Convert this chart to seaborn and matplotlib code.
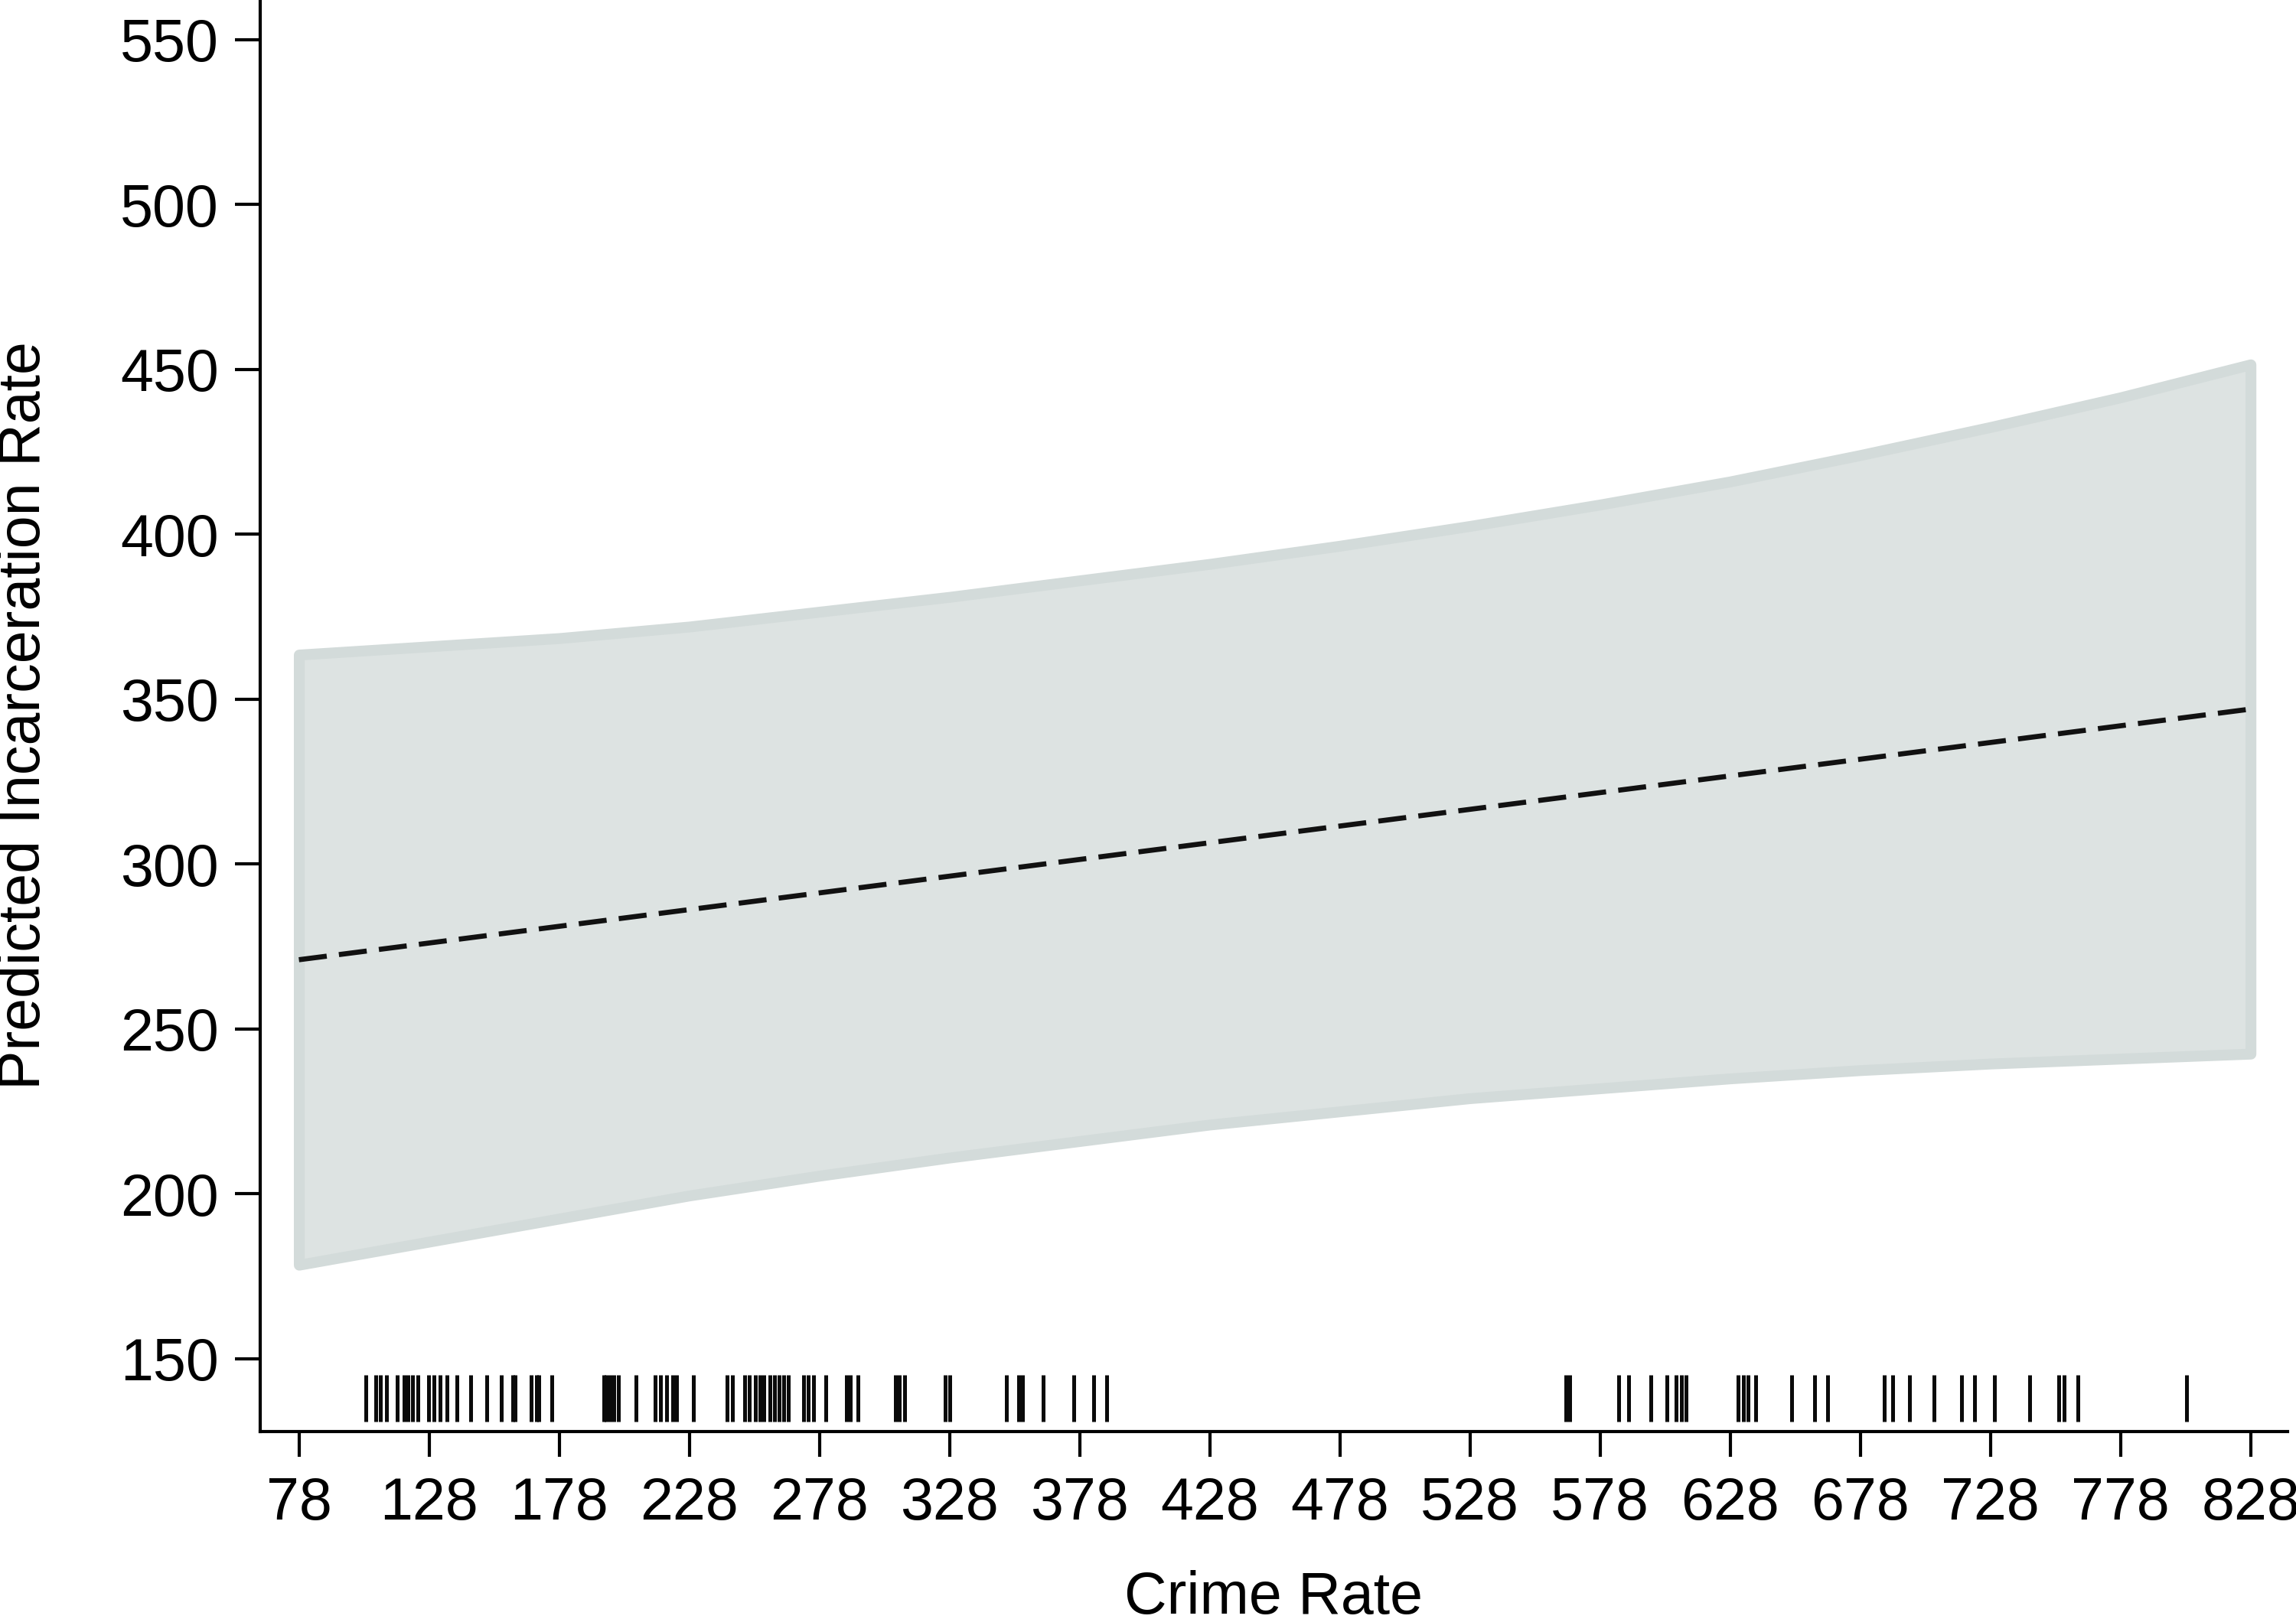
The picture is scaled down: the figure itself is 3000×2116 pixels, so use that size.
'''
predicted incarceration rate by crime rate, with confidence band and rug
'''

import matplotlib
matplotlib.use("Agg")
import matplotlib.pyplot as plt
import pandas as pd
import seaborn as sns

# band at each x tick
crime_grid = [78, 128, 178, 228, 278, 328, 378, 428, 478, 528, 578, 628, 678, 728, 778, 828]
upper_ci = [363.5, 366, 368.5, 372, 376.5, 381, 386, 391, 396.5, 402.5, 409, 416, 424, 432.5, 441.5, 451.5]
lower_ci = [178.5, 185.5, 192.5, 199.5, 205.5, 211, 216, 221, 225, 229, 232, 235, 237.5, 239.5, 241, 242.5]

# predicted line (straight, endpoints)
line_x = [78, 828]
line_y = [271, 347]

# observed crime rates (rug)
rug_values = [
    103.6, 107.5, 109.4, 111.7, 115.8, 118.5, 119.9, 121.7, 123.7, 127.7, 129.9, 132.3,
    134.9, 138.6, 143.9, 150.1, 155.9, 160.1, 161.1, 167.2, 169.2, 170.2, 175.1, 195.1,
    196.2, 197.4, 198.9, 200.9, 207.5, 214.8, 217.0, 219.2, 221.7, 223.1, 229.6, 242.5,
    244.7, 249.4, 251.1, 253.4, 255.1, 256.8, 258.9, 260.8, 262.6, 264.2, 266.0, 272.0,
    273.8, 275.7, 280.4, 288.5, 289.9, 292.9, 307.2, 308.7, 310.9, 326.3, 328.2, 349.9,
    354.5, 356.0, 363.9, 375.8, 383.5, 388.4, 564.8, 566.3, 585.2, 588.9, 597.4, 603.6,
    607.2, 609.2, 611.1, 631.2, 633.0, 634.9, 637.9, 651.5, 660.6, 665.4, 687.2, 690.5,
    696.9, 706.4, 717.0, 721.9, 729.5, 743.2, 754.3, 756.3, 761.7, 803.3,
]

x_ticks = list(range(78, 829, 50))
y_ticks = list(range(150, 551, 50))

sns.set_theme(style="ticks")
plt.rcParams['font.family'] = ['Liberation Sans', 'DejaVu Sans']

fig = plt.figure(figsize=(10, 2116 / 300))
ax = fig.add_axes([0.1133, 0.1159, 0.883, 0.8841])

ax.fill_between(crime_grid, lower_ci, upper_ci, facecolor="#dde3e2",
                edgecolor="#d3dbda", linewidth=3.4, joinstyle="round", zorder=1)

df_line = pd.DataFrame({"crime": line_x, "pred": line_y})
sns.lineplot(data=df_line, x="crime", y="pred", ax=ax, color="#111111",
             linewidth=1.6, zorder=3)
ax.lines[-1].set_linestyle((0, (5.5, 2.4)))

ax.vlines(rug_values, 131, 145, color="#0a0a0a", linewidth=1.2, zorder=2)

ax.set_xlim(63.1, 842.2)
ax.set_ylim(128, 562)
ax.set_xticks(x_ticks)
ax.set_yticks(y_ticks)
ax.tick_params(axis="both", labelsize=18.5, length=7.9, width=1, color="black",
               labelcolor="black")
ax.tick_params(axis="y", pad=5)
ax.tick_params(axis="x", pad=6)

for side in ["top", "right"]:
    ax.spines[side].set_visible(False)
for side in ["left", "bottom"]:
    ax.spines[side].set_color("black")
    ax.spines[side].set_linewidth(1)

ax.set_xlabel("Crime Rate", fontsize=18.5, color="black")
ax.set_ylabel("Predicted Incarceration Rate", fontsize=18.5, color="black")
ax.xaxis.set_label_coords(0.5, -0.097)
ax.yaxis.set_label_coords(-0.1025, 0.5)

fig.savefig("out.png", dpi=300)
